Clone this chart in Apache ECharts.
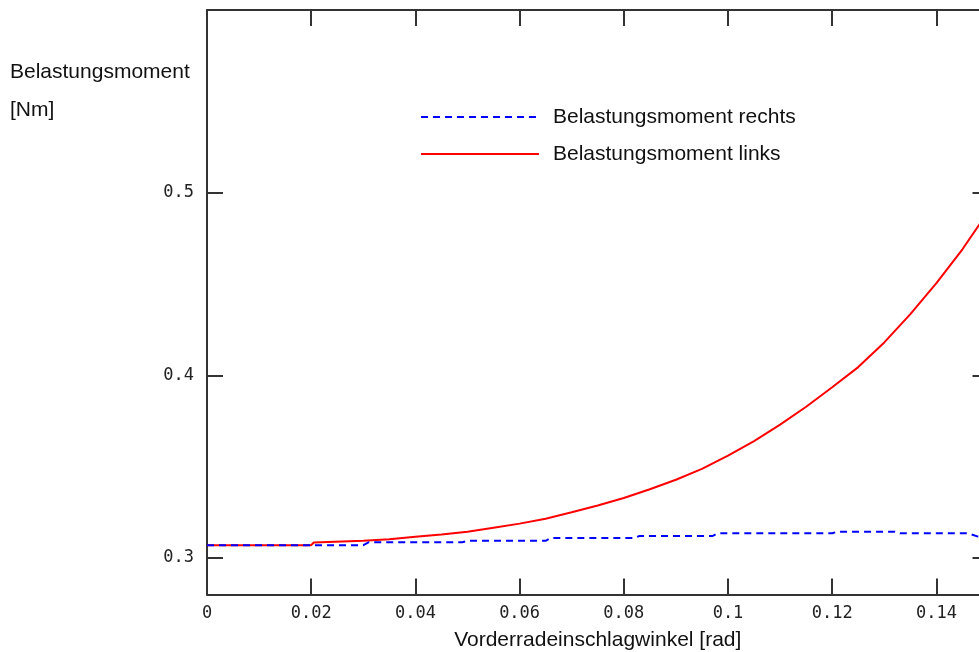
<!DOCTYPE html>
<html>
<head>
<meta charset="utf-8">
<script src="https://cdn.jsdelivr.net/npm/echarts@6/dist/echarts.min.js"></script>
<style>
html,body{margin:0;padding:0;background:#ffffff;}
#chart{width:979px;height:652px;}
</style>
</head>
<body>
<div id="chart"></div>
<script>
// ---- data ----
const xLinks = [0, 0.01, 0.02, 0.0205, 0.03, 0.035, 0.04, 0.045, 0.05, 0.055, 0.06, 0.065, 0.07, 0.075, 0.08, 0.085, 0.09, 0.095, 0.1, 0.105, 0.11, 0.115, 0.12, 0.125, 0.13, 0.135, 0.14, 0.145, 0.15];
const yLinks = [0.3070, 0.3070, 0.3070, 0.3085, 0.3094, 0.3102, 0.3116, 0.3128, 0.3144, 0.3166, 0.3188, 0.3215, 0.3250, 0.3287, 0.3328, 0.3376, 0.3428, 0.3488, 0.3560, 0.3640, 0.3730, 0.3828, 0.3935, 0.4045, 0.4180, 0.4335, 0.4505, 0.4690, 0.4900];

const xRechts = [0, 0.02, 0.03, 0.031, 0.049, 0.05, 0.065, 0.066, 0.082, 0.083, 0.097, 0.098, 0.12, 0.121, 0.132, 0.133, 0.146, 0.148, 0.15];
const yRechts = [0.3070, 0.3070, 0.3070, 0.3086, 0.3086, 0.3094, 0.3094, 0.3109, 0.3109, 0.3120, 0.3120, 0.3135, 0.3135, 0.3144, 0.3144, 0.3135, 0.3135, 0.3117, 0.3115];

const xTickValues = [0.02, 0.04, 0.06, 0.08, 0.1, 0.12, 0.14];
const xLabelValues = [0, 0.02, 0.04, 0.06, 0.08, 0.1, 0.12, 0.14];
const yTickValues = [0.3, 0.4, 0.5];

const seriesNames = ['Belastungsmoment rechts', 'Belastungsmoment links'];
const xAxisTitle = 'Vorderradeinschlagwinkel [rad]';
const yAxisTitle = ['Belastungsmoment', '[Nm]'];

// ---- chart ----
const pair = (xs, ys) => xs.map((x, i) => [x, ys[i]]);
const axisColor = '#333333';
const tickFont = {fontFamily: 'DejaVu Sans Mono', fontSize: 17, color: '#222222'};
const textFont = 'Liberation Sans';

const chart = echarts.init(document.getElementById('chart'), null, {renderer: 'canvas'});
chart.setOption({
  animation: false,
  backgroundColor: '#ffffff',
  title: {
    text: yAxisTitle.join('\n'),
    left: 10,
    top: 53,
    padding: 0,
    textStyle: {fontFamily: textFont, fontSize: 21, fontWeight: 'normal', color: '#111111', lineHeight: 38}
  },
  legend: {
    orient: 'vertical',
    left: 420,
    top: 105,
    padding: 0,
    itemWidth: 118,
    itemHeight: 14,
    itemGap: 13,
    data: seriesNames,
    itemStyle: {opacity: 0},
    textStyle: {fontFamily: textFont, fontSize: 21, color: '#111111', lineHeight: 24, padding: [0, 0, 0, 9]}
  },
  grid: {left: 207, top: 10, width: 781.5, height: 584.5, containLabel: false, outerBoundsMode: 'none'},
  xAxis: [
    {
      type: 'value', position: 'bottom', min: 0, max: 0.15,
      axisLine: {show: true, onZero: false, lineStyle: {color: axisColor, width: 2}},
      axisTick: {show: true, inside: true, length: 16, customValues: xTickValues, lineStyle: {color: axisColor, width: 2}},
      axisLabel: {show: true, customValues: xLabelValues, margin: 11, formatter: v => String(+v.toFixed(2)), ...tickFont},
      splitLine: {show: false},
      name: xAxisTitle, nameLocation: 'middle', nameGap: 35,
      nameTextStyle: {fontFamily: textFont, fontSize: 21, color: '#111111'}
    },
    {
      type: 'value', position: 'top', min: 0, max: 0.15,
      axisLine: {show: true, onZero: false, lineStyle: {color: axisColor, width: 2}},
      axisTick: {show: true, inside: true, length: 16, customValues: xTickValues, lineStyle: {color: axisColor, width: 2}},
      axisLabel: {show: false},
      splitLine: {show: false}
    }
  ],
  yAxis: [
    {
      type: 'value', position: 'left', min: 0.28, max: 0.6,
      axisLine: {show: true, onZero: false, lineStyle: {color: axisColor, width: 2}},
      axisTick: {show: true, inside: true, length: 16, customValues: yTickValues, lineStyle: {color: axisColor, width: 2}},
      axisLabel: {show: true, customValues: yTickValues, margin: 13, formatter: v => String(+v.toFixed(2)), ...tickFont},
      splitLine: {show: false}
    },
    {
      type: 'value', position: 'right', min: 0.28, max: 0.6,
      axisLine: {show: true, onZero: false, lineStyle: {color: axisColor, width: 2}},
      axisTick: {show: true, inside: true, length: 16, customValues: yTickValues, lineStyle: {color: axisColor, width: 2}},
      axisLabel: {show: false},
      splitLine: {show: false}
    }
  ],
  series: [
    {
      name: seriesNames[0], type: 'line', xAxisIndex: 0, yAxisIndex: 0,
      data: pair(xRechts, yRechts), symbol: 'none', smooth: false,
      lineStyle: {color: '#0000ff', width: 2, type: [7, 5]},
      itemStyle: {color: '#0000ff'}, z: 3
    },
    {
      name: seriesNames[1], type: 'line', xAxisIndex: 0, yAxisIndex: 0,
      data: pair(xLinks, yLinks), symbol: 'none', smooth: false,
      lineStyle: {color: '#ff0000', width: 2, type: 'solid'},
      itemStyle: {color: '#ff0000'}, z: 2
    }
  ]
});
</script>
</body>
</html>
